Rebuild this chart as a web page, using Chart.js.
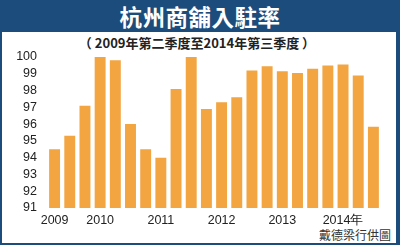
<!DOCTYPE html>
<html>
<head>
<meta charset="utf-8">
<script src="https://cdn.jsdelivr.net/npm/chart.js@4"></script>
<style>
  body { margin: 0; }
  #frame { position: relative; width: 400px; height: 245px; background: #1c4c7c; overflow: hidden; }
  #panel { position: absolute; left: 2px; top: 32px; width: 394px; height: 211px; background: #fff; }
  .txt { position: absolute; font-family: "Noto Sans CJK TC", "Noto Sans CJK SC", sans-serif; font-weight: bold; white-space: nowrap; }
  #title { left: 0; top: 0; width: 400px; height: 32px; line-height: 32px; text-align: center; color: #fff; font-size: 22.5px; letter-spacing: 0.5px; }
  #subtitle { left: 0; top: 34px; width: 394px; text-align: center; color: #222; font-size: 13px; line-height: 18px; }
  #source { right: 9px; top: 226px; color: #333; font-size: 12px; font-weight: normal; line-height: 18px; }
  canvas { position: absolute; left: 0; top: 0; }
</style>
</head>
<body>
<div id="frame">
  <div id="panel"></div>
  <div id="title" class="txt">杭州商舖入駐率</div>
  <div id="subtitle" class="txt">（ 2009年第二季度至2014年第三季度 ）</div>
  <div id="source" class="txt">戴德梁行供圖</div>
  <canvas id="chart" width="400" height="245"></canvas>
</div>
<script>
// one bar per quarter, 2009 Q2 .. 2014 Q3; year shown under its first bar
const categories = ["2009", "", "", "2010", "", "", "", "2011", "", "", "", "2012", "", "", "", "2013", "", "", "", "2014年", "", ""];
const occupancy = [94.5, 95.3, 97.1, 100.0, 99.8, 96.0, 94.5, 94.0, 98.1, 100.0, 96.9, 97.3, 97.6, 99.2, 99.45, 99.15, 99.05, 99.3, 99.5, 99.55, 98.9, 95.85];
const yMin = 91;
const yMax = 100;

const tickFont = { family: "'Liberation Sans', Arial, sans-serif", size: 12.5 };

const ctx = document.getElementById("chart").getContext("2d");
new Chart(ctx, {
    type: "bar",
    data: {
        labels: categories,
        datasets: [{
            data: occupancy,
            backgroundColor: "#f2a541",
            barPercentage: 0.8,
            categoryPercentage: 0.9
        }]
    },
    options: {
        responsive: false,
        animation: false,
        layout: { padding: { left: 0, top: 57, right: 19, bottom: 0 } },
        plugins: { legend: { display: false }, tooltip: { enabled: false } },
        scales: {
            x: {
                grid: { display: false, drawTicks: false },
                border: { display: false },
                ticks: { autoSkip: false, maxRotation: 0, padding: 5, color: "#222", font: tickFont },
                afterFit: scale => { scale.height = 37; }
            },
            y: {
                min: yMin,
                max: yMax,
                grid: { display: false, drawTicks: false },
                border: { display: false },
                ticks: { stepSize: 1, autoSkip: false, padding: 10, color: "#222", font: tickFont },
                afterFit: scale => { scale.width = 47; }
            }
        }
    }
});
</script>
</body>
</html>
